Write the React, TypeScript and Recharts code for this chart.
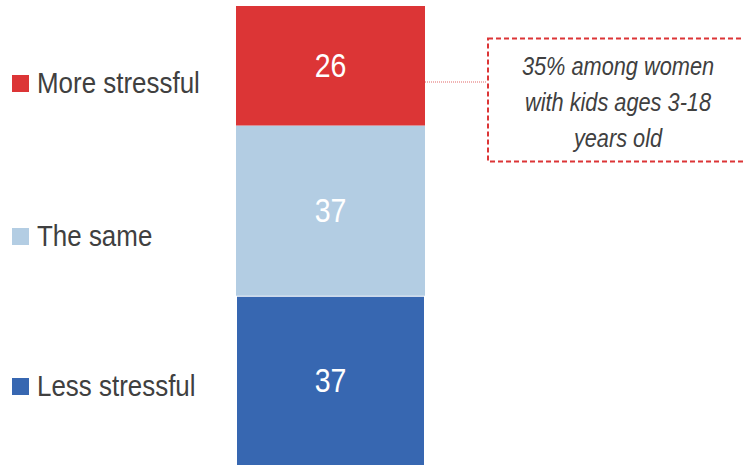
import { BarChart, Bar, XAxis, YAxis, LabelList } from "recharts";

const categories = ["All adults"];
const seriesNames = ["Less stressful", "The same", "More stressful"];
const lessValues = [37];
const sameValues = [37];
const moreValues = [26];
const noteLines = ["35% among women", "with kids ages 3-18", "years old"];

const COLORS: Record<string, string> = {
  "Less stressful": "#3767b1",
  "The same": "#b3cde3",
  "More stressful": "#dc3536",
};

// legend rows sit at fixed heights beside the bar
const LEGEND_Y: Record<string, number> = {
  "More stressful": 83,
  "The same": 236,
  "Less stressful": 386,
};

const FONT = '"Liberation Sans", Arial, sans-serif';
const NARROW = 0.865; // squeeze to mimic the narrow face

const data = categories.map((c, i) => ({
  name: c,
  less: lessValues[i],
  same: sameValues[i],
  more: moreValues[i],
}));

function SegLabel(props: any) {
  const { x, y, width, height, value } = props;
  const cx = x + width / 2;
  const cy = y + height / 2;
  return (
    <text
      transform={`translate(${cx},${cy}) scale(${NARROW},1)`}
      textAnchor="middle"
      dominantBaseline="central"
      fill="#fff"
      fontSize={33}
      fontFamily={FONT}
    >
      {value}
    </text>
  );
}

export default function App() {
  return (
    <div style={{ position: "absolute", left: 0, top: 0, width: 743, height: 466, background: "#fff" }}>
      <BarChart
        width={743}
        height={466}
        data={data}
        margin={{ top: 6, right: 318, bottom: 0, left: 236 }}
        barCategoryGap={0}
      >
        <XAxis dataKey="name" hide />
        <YAxis hide domain={[0, 100]} />
        <Bar dataKey="less" name={seriesNames[0]} stackId="a" fill={COLORS[seriesNames[0]]} stroke="#fff" strokeWidth={2} isAnimationActive={false}>
          <LabelList dataKey="less" content={<SegLabel />} />
        </Bar>
        <Bar dataKey="same" name={seriesNames[1]} stackId="a" fill={COLORS[seriesNames[1]]} isAnimationActive={false}>
          <LabelList dataKey="same" content={<SegLabel />} />
        </Bar>
        <Bar dataKey="more" name={seriesNames[2]} stackId="a" fill={COLORS[seriesNames[2]]} isAnimationActive={false}>
          <LabelList dataKey="more" content={<SegLabel />} />
        </Bar>
      </BarChart>
      <svg
        width={743}
        height={466}
        style={{ position: "absolute", left: 0, top: 0, pointerEvents: "none" }}
      >
        {seriesNames.map((n) => (
          <g key={n}>
            <rect x={12} y={LEGEND_Y[n] - 8} width={17} height={17} fill={COLORS[n]} />
            <text
              transform={`translate(37,${LEGEND_Y[n]}) scale(${NARROW},1)`}
              dominantBaseline="central"
              fontFamily={FONT}
              fontSize={30}
              fill="#404040"
            >
              {n}
            </text>
          </g>
        ))}
        <line x1={425} y1={82} x2={487} y2={82} stroke="#ec9a9b" strokeWidth={1.5} strokeDasharray="1 1" />
        <rect
          x={488}
          y={38.5}
          width={270}
          height={123}
          fill="none"
          stroke="#dc3536"
          strokeWidth={2}
          strokeDasharray="5 3"
        />
        {noteLines.map((t, i) => (
          <text
            key={t}
            transform={`translate(618,${75 + i * 36}) scale(0.87,1)`}
            textAnchor="middle"
            fontFamily={FONT}
            fontStyle="italic"
            fontSize={25}
            fill="#404040"
          >
            {t}
          </text>
        ))}
      </svg>
    </div>
  );
}
